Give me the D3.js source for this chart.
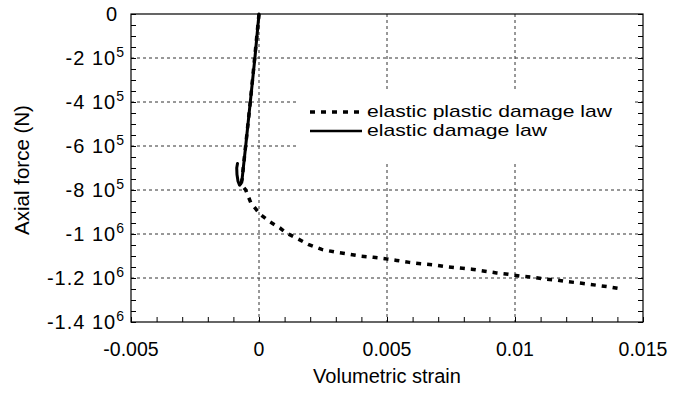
<!DOCTYPE html>
<html><head><meta charset="utf-8">
<script src="https://cdn.jsdelivr.net/npm/d3@7"></script>
<style>
html,body{margin:0;padding:0;background:#fff;}
text{font-family:"Liberation Sans",Arial,Helvetica,sans-serif;fill:#000;}
</style></head>
<body><svg id="c" width="674" height="394"></svg>
<script>
// ---- data ----
const xTicks = [-0.005, 0, 0.005, 0.01, 0.015];
const xTickLabels = ["-0.005", "0", "0.005", "0.01", "0.015"];
const yTicks = [0, -2e5, -4e5, -6e5, -8e5, -1e6, -1.2e6, -1.4e6];
const yTickMantissa = ["0", "-2 10", "-4 10", "-6 10", "-8 10", "-1 10", "-1.2 10", "-1.4 10"];
const yTickExponent = ["", "5", "5", "5", "5", "6", "6", "6"];
const seriesNames = ["elastic plastic damage law", "elastic damage law"];

// elastic damage law (solid)
const edStrain = [0, -0.00016, -0.00034, -0.00052, -0.00066, -0.0007, -0.00076, -0.00082, -0.00086, -0.00087, -0.00084];
const edForce  = [0, -2.0e5, -4.0e5, -6.0e5, -7.5e5, -7.7e5, -7.78e5, -7.6e5, -7.3e5, -7.0e5, -6.8e5];

// elastic plastic damage law (dotted)
const epdStrain = [0, -0.00034, -0.00066, -0.0007, -0.00052, -0.00032, 0.00004, 0.00043, 0.00082, 0.00105, 0.0015, 0.00192, 0.00245, 0.00297, 0.00349, 0.00395, 0.00447, 0.00492, 0.00538, 0.00587, 0.00632, 0.00681, 0.00733, 0.00785, 0.00831, 0.00876, 0.00928, 0.00974, 0.0102, 0.01071, 0.01117, 0.01163, 0.01208, 0.01261, 0.01319, 0.01371, 0.01413];
const epdForce  = [0, -4.0e5, -7.5e5, -7.75e5, -8.0e5, -8.58e5, -9.10e5, -9.45e5, -9.73e5, -9.94e5, -1.021e6, -1.047e6, -1.070e6, -1.082e6, -1.091e6, -1.100e6, -1.106e6, -1.112e6, -1.120e6, -1.129e6, -1.135e6, -1.140e6, -1.149e6, -1.155e6, -1.160e6, -1.168e6, -1.177e6, -1.183e6, -1.191e6, -1.197e6, -1.205e6, -1.209e6, -1.217e6, -1.224e6, -1.233e6, -1.241e6, -1.249e6];

// ---- layout ----
const L = 131, R = 643, T = 14, B = 322;
const svg = d3.select("#c");
const x = d3.scaleLinear().domain([-0.005, 0.015]).range([L, R]);
const y = d3.scaleLinear().domain([-1.4e6, 0]).range([B, T]);

// grid
const g = svg.append("g");
g.selectAll(".hg").data(yTicks.slice(1, -1)).enter().append("line")
  .attr("x1", L).attr("x2", R).attr("y1", d => y(d)).attr("y2", d => y(d))
  .attr("stroke", "#333").attr("stroke-width", 1).attr("stroke-dasharray", "3,3");
g.selectAll(".vg").data(xTicks.slice(1, -1)).enter().append("line")
  .attr("y1", T).attr("y2", B).attr("x1", d => x(d)).attr("x2", d => x(d))
  .attr("stroke", "#333").attr("stroke-width", 1).attr("stroke-dasharray", "3,3");

// legend background (covers grid)
svg.append("rect").attr("x", 297).attr("y", 90).attr("width", 335).attr("height", 73).attr("fill", "#fff");

// axes (inward ticks)
const xMinor = d3.range(-0.005, 0.01501, 0.001);
const yMinor = d3.range(-1.4e6, 1, 5e4);
function styleAxis(sel){ sel.select(".domain").remove(); sel.selectAll("line").attr("stroke","#000"); sel.selectAll("text").remove(); }
svg.append("g").attr("transform", `translate(0,${B})`).call(d3.axisBottom(x).tickValues(xMinor).tickSize(-5)).call(styleAxis);
svg.append("g").attr("transform", `translate(${L},0)`).call(d3.axisLeft(y).tickValues(yMinor).tickSize(-5)).call(styleAxis);
svg.append("g").attr("transform", `translate(${R},0)`).call(d3.axisRight(y).tickValues(yMinor).tickSize(-5)).call(styleAxis);
svg.append("rect").attr("x", L).attr("y", T).attr("width", R - L).attr("height", B - T)
  .attr("fill", "none").attr("stroke", "#000").attr("stroke-width", 1.2);

// tick labels
svg.selectAll(".xl").data(xTicks).enter().append("text")
  .attr("x", d => x(d)).attr("y", 356).attr("text-anchor", "middle")
  .attr("font-size", 19.5).text((d, i) => xTickLabels[i]);
const yl = svg.selectAll(".yl").data(yTicks).enter().append("text")
  .attr("x", (d, i) => i === 0 ? 118 : 124).attr("y", d => y(d) + 7).attr("text-anchor", "end")
  .attr("font-size", 20);
yl.append("tspan").attr("letter-spacing", 1).text((d, i) => yTickMantissa[i]);
yl.append("tspan").attr("font-size", 14).attr("dy", -8).text((d, i) => yTickExponent[i]);

// axis titles
svg.append("text").attr("x", 387).attr("y", 383).attr("text-anchor", "middle").attr("font-size", 20).text("Volumetric strain");
svg.append("text").attr("transform", "translate(29,170) rotate(-90)").attr("text-anchor", "middle").attr("font-size", 20.5).text("Axial force (N)");

// series
const line = d3.line().x(d => x(d[0])).y(d => y(d[1]));
const epd = epdStrain.map((v, i) => [v, epdForce[i]]);
const ed = edStrain.map((v, i) => [v, edForce[i]]);
svg.append("path").attr("d", line(epd)).attr("fill", "none").attr("stroke", "#000")
  .attr("stroke-width", 3.5).attr("stroke-dasharray", "5,6");
svg.append("path").attr("d", line(ed)).attr("fill", "none").attr("stroke", "#000")
  .attr("stroke-width", 3).attr("stroke-linejoin", "round").attr("stroke-linecap", "round");

// legend
const lg = svg.append("g");
lg.append("line").attr("x1", 310).attr("x2", 362).attr("y1", 112).attr("y2", 112)
  .attr("stroke", "#000").attr("stroke-width", 3.5).attr("stroke-dasharray", "5,6");
lg.append("line").attr("x1", 310).attr("x2", 362).attr("y1", 131).attr("y2", 131)
  .attr("stroke", "#000").attr("stroke-width", 2.5);
const legendWidths = [245, 180];
lg.selectAll(".lt").data(seriesNames).enter().append("text")
  .attr("x", 367).attr("y", (d, i) => 117 + i * 19).attr("font-size", 17)
  .attr("textLength", (d, i) => legendWidths[i]).attr("lengthAdjust", "spacingAndGlyphs")
  .text(d => d);
</script></body></html>
